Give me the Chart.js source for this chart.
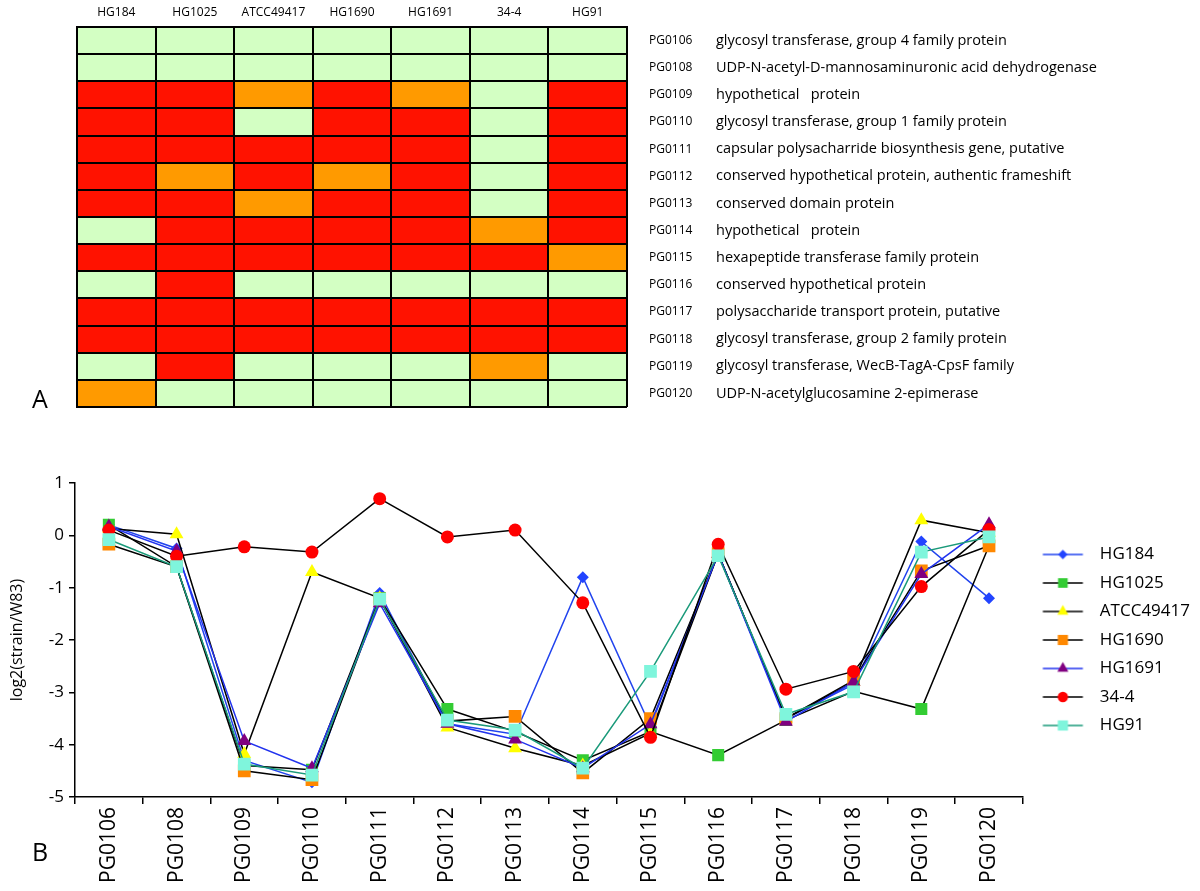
<!DOCTYPE html>
<html>
<head>
<meta charset="utf-8">
<script src="https://cdn.jsdelivr.net/npm/chart.js@4.4.1/dist/chart.umd.min.js"></script>
<style>
    body { margin: 0; background: #fff; font-family: "Open Sans", sans-serif; }
    #page { position: relative; width: 1200px; height: 891px; overflow: hidden; }
    .box { position: absolute; left: 0; }
    .panel-letter { position: absolute; font-size: 25px; color: #000; }
</style>
</head>
<body>
<div id="page">
    <div class="box" style="top:0; width:1200px; height:420px;"><canvas id="heat" width="1200" height="420"></canvas></div>
    <div class="box" style="top:420px; width:1200px; height:471px;"><canvas id="lines" width="1200" height="471"></canvas></div>
    <div class="panel-letter" style="left:32px; top:381px;">A</div>
    <div class="panel-letter" style="left:32px; top:834px;">B</div>
</div>
<script>
// ============================================
// DATA
// ============================================
const strains = ['HG184', 'HG1025', 'ATCC49417', 'HG1690', 'HG1691', '34-4', 'HG91'];

const genes = ['PG0106', 'PG0108', 'PG0109', 'PG0110', 'PG0111', 'PG0112', 'PG0113',
               'PG0114', 'PG0115', 'PG0116', 'PG0117', 'PG0118', 'PG0119', 'PG0120'];

const geneNames = [
    'glycosyl transferase, group 4 family protein',
    'UDP-N-acetyl-D-mannosaminuronic acid dehydrogenase',
    'hypothetical   protein',
    'glycosyl transferase, group 1 family protein',
    'capsular polysacharride biosynthesis gene, putative',
    'conserved hypothetical protein, authentic frameshift',
    'conserved domain protein',
    'hypothetical   protein',
    'hexapeptide transferase family protein',
    'conserved hypothetical protein',
    'polysaccharide transport protein, putative',
    'glycosyl transferase, group 2 family protein',
    'glycosyl transferase, WecB-TagA-CpsF family',
    'UDP-N-acetylglucosamine 2-epimerase'
];

// heatmap classes per gene (row), one letter per strain (column)
// L = present, O = divergent, R = absent
const heatRows = [
    ['L', 'L', 'L', 'L', 'L', 'L', 'L'],
    ['L', 'L', 'L', 'L', 'L', 'L', 'L'],
    ['R', 'R', 'O', 'R', 'O', 'L', 'R'],
    ['R', 'R', 'L', 'R', 'R', 'L', 'R'],
    ['R', 'R', 'R', 'R', 'R', 'L', 'R'],
    ['R', 'O', 'R', 'O', 'R', 'L', 'R'],
    ['R', 'R', 'O', 'R', 'R', 'L', 'R'],
    ['L', 'R', 'R', 'R', 'R', 'O', 'R'],
    ['R', 'R', 'R', 'R', 'R', 'R', 'O'],
    ['L', 'R', 'L', 'L', 'L', 'L', 'L'],
    ['R', 'R', 'R', 'R', 'R', 'R', 'R'],
    ['R', 'R', 'R', 'R', 'R', 'R', 'R'],
    ['L', 'R', 'L', 'L', 'L', 'O', 'L'],
    ['O', 'L', 'L', 'L', 'L', 'L', 'L']
];

// log2(strain/W83) per gene
const hg184     = [0.20, -0.25, -4.30, -4.72, -1.10, -3.60, -3.80, -0.80, -3.65, -0.35, -3.50, -2.85, -0.12, -1.20];
const hg1025    = [0.20, -0.60, -4.40, -4.48, -1.20, -3.32, -3.75, -4.30, -3.75, -4.20, -3.53, -2.98, -3.32, -0.20];
const atcc49417 = [0.13,  0.02, -4.18, -0.70, -1.20, -3.67, -4.07, -4.40, -3.78, -0.35, -3.50, -2.80,  0.29,  0.05];
const hg1690    = [-0.17, -0.60, -4.50, -4.67, -1.22, -3.55, -3.46, -4.54, -3.50, -0.35, -3.50, -2.77, -0.68, -0.20];
const hg1691    = [0.17, -0.30, -3.93, -4.45, -1.30, -3.60, -3.90, -4.45, -3.61, -0.35, -3.56, -2.80, -0.74,  0.21];
const s34_4     = [0.10, -0.40, -0.22, -0.32,  0.70, -0.03,  0.10, -1.29, -3.86, -0.17, -2.94, -2.60, -0.98,  0.11];
const hg91      = [-0.08, -0.60, -4.37, -4.58, -1.22, -3.53, -3.72, -4.45, -2.60, -0.39, -3.42, -2.99, -0.32, -0.03];

const yTicks = [1, 0, -1, -2, -3, -4, -5];

// ============================================
// STYLE
// ============================================
const cellColors = { L: '#d3ffc3', O: '#ff9a00', R: '#ff1200' };

const seriesStyle = [
    { data: hg184,     line: '#2244ee', fill: '#2244ff', shape: 'rectRot',  r: 6 },
    { data: hg1025,    line: '#000000', fill: '#33cc33', shape: 'rect',     r: 8.5 },
    { data: atcc49417, line: '#000000', fill: '#ffff00', shape: 'triangle', r: 8 },
    { data: hg1690,    line: '#000000', fill: '#ff8800', shape: 'rect',     r: 9 },
    { data: hg1691,    line: '#2233ee', fill: '#800080', shape: 'triangle', r: 8 },
    { data: s34_4,     line: '#000000', fill: '#ff0000', shape: 'circle',   r: 6.5 },
    { data: hg91,      line: '#1a9a7a', fill: '#7ff5dc', shape: 'rect',     r: 9 }
];

const FONT = '"Open Sans", sans-serif';

// no edge padding for label axes, keeps the plot box where it belongs
function noEdgePad(s) {
    s.paddingTop = 0;
    s.paddingBottom = 0;
    s.paddingLeft = 0;
    s.paddingRight = 0;
}

// ============================================
// PANEL A - HEATMAP
// ============================================
const heatDatasets = heatRows.map(row => ({
    data: row.map(() => 1),
    backgroundColor: row.map(c => cellColors[c]),
    borderWidth: 0,
    inflateAmount: 0.5,
    barPercentage: 1,
    categoryPercentage: 1,
    yAxisID: 'y'
}));

// cell borders come from the axis grids, drawn above the bars (z: 1)
const cellGrid = { display: true, color: '#000', lineWidth: 2, drawTicks: false, z: 1 };

new Chart(document.getElementById('heat'), {
    type: 'bar',
    data: { labels: strains, datasets: heatDatasets },
    options: {
        responsive: false,
        animation: false,
        layout: { padding: { left: 77, right: 0, top: 0, bottom: 13 } },
        plugins: { legend: { display: false }, tooltip: { enabled: false } },
        scales: {
            x: {
                position: 'top',
                stacked: true,
                grid: { ...cellGrid, offset: true },
                border: { display: true, color: '#000', width: 2, z: 1 },
                ticks: { color: '#000', font: { family: FONT, size: 12 }, padding: 7, maxRotation: 0 },
                afterFit(s) { s.height = 27; noEdgePad(s); }
            },
            y: {
                stacked: true,
                min: 0,
                max: 14,
                reverse: true,
                position: 'left',
                afterBuildTicks(s) { s.ticks = heatRows.map((r, i) => ({ value: i })).concat([{ value: heatRows.length }]); },
                grid: cellGrid,
                border: { display: true, color: '#000', width: 2, z: 1 },
                ticks: { display: false },
                afterFit(s) { s.width = 0; noEdgePad(s); }
            },
            yId: {
                type: 'category',
                labels: genes,
                position: 'right',
                weight: 0,
                offset: true,
                grid: { display: false, drawTicks: false },
                border: { display: false },
                ticks: { color: '#000', font: { family: FONT, size: 12 }, padding: 22, autoSkip: false },
                afterFit(s) { s.width = 89; noEdgePad(s); }
            },
            yDesc: {
                type: 'category',
                labels: geneNames,
                position: 'right',
                weight: 1,
                offset: true,
                grid: { display: false, drawTicks: false },
                border: { display: false },
                ticks: { color: '#000', font: { family: FONT, size: 14.5 }, padding: 0, autoSkip: false },
                afterFit(s) { s.width = 484; noEdgePad(s); }
            }
        }
    }
});

// ============================================
// PANEL B - LINE CHART
// ============================================
const ICON_W = 57;

function legendIcon(st) {
    const c = document.createElement('canvas');
    c.width = ICON_W;
    c.height = 18;
    const g = c.getContext('2d');
    g.strokeStyle = st.line;
    g.lineWidth = 1.5;
    g.beginPath();
    g.moveTo(ICON_W / 2 - 20, 9);
    g.lineTo(ICON_W / 2 + 20, 9);
    g.stroke();
    g.fillStyle = st.fill;
    Chart.helpers.drawPoint(g, { pointStyle: st.shape, radius: st.r * 0.8, borderWidth: 0 }, ICON_W / 2, 9);
    return c;
}

const lineDatasets = seriesStyle.map((st, i) => ({
    label: strains[i],
    data: st.data,
    borderColor: st.line,
    borderWidth: 1.5,
    pointStyle: st.shape,
    pointRadius: st.r,
    pointBackgroundColor: st.fill,
    pointBorderWidth: 0,
    tension: 0,
    order: seriesStyle.length - i
}));

new Chart(document.getElementById('lines'), {
    type: 'line',
    data: { labels: genes, datasets: lineDatasets },
    options: {
        responsive: false,
        animation: false,
        layout: { padding: { left: 8, right: 0, top: 63, bottom: 0 } },
        plugins: {
            tooltip: { enabled: false },
            legend: {
                position: 'right',
                fullSize: false,
                labels: {
                    color: '#000',
                    font: { family: FONT, size: 17 },
                    padding: 11.5,
                    usePointStyle: true,
                    pointStyleWidth: ICON_W,
                    generateLabels: () => seriesStyle.map((st, i) => ({
                        text: strains[i],
                        pointStyle: legendIcon(st),
                        fillStyle: st.fill,
                        strokeStyle: st.line,
                        lineWidth: 0,
                        hidden: false,
                        datasetIndex: i,
                        fontColor: '#000'
                    }))
                }
            }
        },
        scales: {
            x: {
                offset: true,
                grid: { offset: true, drawOnChartArea: false, tickLength: 7, color: '#000', lineWidth: 1.5 },
                border: { color: '#000', width: 1.5 },
                ticks: { color: '#000', font: { family: FONT, size: 21 }, minRotation: 90, maxRotation: 90, padding: 3, autoSkip: false },
                afterFit(s) { s.height = 94; noEdgePad(s); }
            },
            y: {
                min: -5,
                max: 1,
                afterBuildTicks(s) { s.ticks = yTicks.map(v => ({ value: v })); },
                grid: { drawOnChartArea: false, tickLength: 6, color: '#000', lineWidth: 1.5 },
                border: { color: '#000', width: 1.5 },
                ticks: { color: '#000', font: { family: FONT, size: 17 }, padding: 5 },
                title: { display: true, text: 'log2(strain/W83)', color: '#000', font: { family: FONT, size: 16 }, padding: 0 },
                afterFit(s) { s.width = 67; noEdgePad(s); }
            }
        }
    }
});
</script>
</body>
</html>
